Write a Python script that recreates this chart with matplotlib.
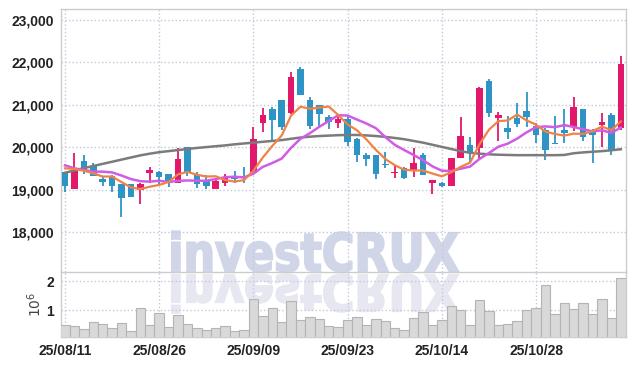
import numpy as np
import pandas as pd
import matplotlib
matplotlib.use('Agg')
import matplotlib.pyplot as plt
from matplotlib.textpath import TextPath
from matplotlib.patches import PathPatch
from matplotlib.font_manager import FontProperties
from matplotlib.transforms import Affine2D, IdentityTransform

# daily candles, 25/08/11 .. 25/11/10 (60 trading days)
open_ = np.array([19421, 19029, 19679, 19562, 19256, 19319, 19138, 19130, 19005, 19405,
                  19421, 19374, 19170, 20001, 19342, 19209, 19029, 19154, 19311, 19327,
                  19405, 20581, 20902, 21114, 20800, 21835, 21114, 20989, 20706, 20581,
                  20667, 20197, 19821, 19821, 19609, 19397, 19515, 19452, 19821, 19170,
                  19154, 19099, 19758, 20056, 19993, 21561, 20699, 20448, 20699, 20855,
                  20503, 20408, 20103, 20408, 20487, 20902, 20408, 20534, 20761, 20448])
high = np.array([19430, 19875, 19820, 19620, 19334, 19340, 19140, 19140, 19150, 19546,
                 19440, 19380, 19993, 20010, 19421, 19358, 19260, 19374, 19452, 19546,
                 20487, 20934, 20957, 21120, 21780, 21898, 21192, 21000, 20769, 20761,
                 20738, 20210, 19860, 19830, 19899, 19570, 19546, 19977, 19860, 19240,
                 19190, 19760, 20706, 20252, 21428, 21600, 20840, 20738, 21036, 21294,
                 20565, 20448, 20746, 20895, 21192, 20910, 20420, 20800, 20800, 22149])
low = np.array([18958, 19020, 19374, 19320, 19099, 18942, 18354, 18830, 18660, 19154,
                19138, 19060, 19160, 19327, 19036, 19020, 19020, 19099, 19170, 19154,
                19400, 20369, 20158, 20408, 20790, 21230, 20424, 20471, 20424, 20447,
                20032, 19648, 19562, 19264, 19507, 19272, 19265, 19295, 19342, 18903,
                19060, 19090, 19750, 19664, 19703, 20706, 20150, 20197, 20487, 20471,
                20095, 19703, 20070, 20095, 20393, 20150, 19624, 20001, 19820, 20408])
close = np.array([19099, 19468, 19468, 19334, 19193, 19099, 18817, 18840, 19138, 19468,
                  19311, 19170, 19734, 19428, 19131, 19099, 19201, 19287, 19248, 19303,
                  20197, 20761, 20644, 20471, 21663, 21240, 20510, 20793, 20589, 20667,
                  20134, 19813, 19719, 19366, 19585, 19421, 19272, 19632, 19358, 19233,
                  19091, 19750, 20267, 19860, 21388, 20800, 20761, 20354, 20542, 20706,
                  20299, 19938, 20087, 20346, 20942, 20252, 20291, 20597, 19938, 21961])
# closes before the window (read back from where the MA lines start)
prior_close = np.array([20168, 19868, 19724, 19193, 19277, 19548, 19673, 19639, 19571])
# long moving average
ma60 = np.array([19400, 19455, 19510, 19560, 19610, 19660, 19710, 19760, 19810, 19850,
                 19885, 19910, 19935, 19960, 19985, 20005, 20025, 20045, 20070, 20090,
                 20110, 20130, 20150, 20170, 20200, 20230, 20250, 20265, 20275, 20285,
                 20290, 20290, 20280, 20265, 20245, 20220, 20190, 20150, 20110, 20060,
                 20010, 19960, 19910, 19870, 19850, 19835, 19825, 19820, 19815, 19815,
                 19815, 19815, 19815, 19820, 19860, 19880, 19895, 19910, 19930, 19955])
# volume in millions of shares
volume = np.array([0.49, 0.47, 0.35, 0.60, 0.53, 0.40, 0.57, 0.28, 1.06, 0.50,
                   0.90, 0.42, 0.83, 0.52, 0.39, 0.31, 0.39, 0.47, 0.28, 0.32,
                   1.38, 0.81, 1.08, 0.60, 1.32, 0.67, 0.77, 0.69, 0.47, 0.43,
                   0.67, 0.76, 0.49, 0.69, 0.64, 0.39, 0.32, 0.73, 0.93, 0.49,
                   0.66, 1.14, 1.00, 0.49, 1.34, 0.97, 0.49, 0.53, 0.63, 1.00,
                   1.08, 1.85, 0.86, 1.24, 1.03, 1.24, 0.86, 1.38, 0.73, 2.09])
tick_pos = [0, 10, 20, 30, 40, 50]
tick_labels = ['25/08/11', '25/08/26', '25/09/09', '25/09/23', '25/10/14', '25/10/28']

RED = '#e2186a'
BLUE = '#2e94c6'
tick_font = dict(family=['Liberation Sans', 'DejaVu Sans'], size=10, weight='bold', color='#222222')

all_close = pd.Series(np.concatenate([prior_close, close]))
ma5 = all_close.rolling(5).mean().values[len(prior_close):]
ma10 = all_close.rolling(10).mean().values[len(prior_close):]

W, H = 634, 366
fig = plt.figure(figsize=(W / 100, H / 100), dpi=100)
ax = fig.add_axes([61 / W, 1 - 272 / H, 565 / W, 263 / H])
axv = fig.add_axes([61 / W, 1 - 337 / H, 565 / W, 65 / H], sharex=ax)

# watermark with reflection, behind both panels
fp = FontProperties(family='DejaVu Sans', weight='bold')
tp = TextPath((0, 0), 'investCRUX', size=1, prop=fp)
bb = tp.get_extents()
sx = 286 / bb.width
sy = 38 / 0.729
main_tr = Affine2D().translate(-bb.x0, 0).scale(sx, sy).translate(172, H - 271)
refl_tr = Affine2D().translate(-bb.x0, 0).scale(sx, -sy * 0.95).translate(172, H - 275)
fig.add_artist(PathPatch(main_tr.transform_path(tp), transform=IdentityTransform(),
                         facecolor='#d0d6e8', edgecolor='#d0d6e8', lw=1.5, zorder=-2))
fig.add_artist(PathPatch(refl_tr.transform_path(tp), transform=IdentityTransform(),
                         facecolor='#e6e7f0', edgecolor='#e6e7f0', lw=1.5, zorder=-2))

x = np.arange(len(close))
colors = np.where(close >= open_, RED, BLUE)
ax.vlines(x, low, high, colors=colors, linewidth=1.3, zorder=3)
ax.bar(x, np.maximum(np.abs(close - open_), 25), bottom=np.minimum(open_, close),
       width=0.7, color=colors, zorder=3)
ax.plot(x, ma60, color='#7b7b7b', lw=1.8, zorder=4)
ax.plot(x, ma10, color='#d05ce6', lw=1.8, zorder=4)
ax.plot(x, ma5, color='#f08247', lw=1.6, zorder=4)

ax.set_facecolor('none')
ax.set_ylim(17066, 23254)
ax.set_xlim(-0.42, 59.55)
yt = [18000, 19000, 20000, 21000, 22000, 23000]
ax.set_yticks(yt)
ax.set_yticklabels([f'{v:,}' for v in yt], fontdict=tick_font)
ax.set_xticks(tick_pos)
ax.tick_params(axis='x', labelbottom=False, length=0)
ax.tick_params(axis='y', length=0, pad=5)
ax.grid(True, color='#c3c8dc', linestyle=':', linewidth=1)

axv.bar(x, volume, width=1.0, color='#d9d9d9', edgecolor='#b4b4b4', linewidth=0.8, zorder=3)
axv.set_facecolor('none')
axv.set_ylim(0.08, 2.31)
axv.set_yticks([1, 2])
axv.set_yticklabels(['1', '2'], fontdict=tick_font)
axv.set_xticks(tick_pos)
axv.set_xticklabels(tick_labels, fontdict=tick_font)
axv.tick_params(length=0, pad=5)
axv.set_ylabel(r'$10^6$', fontsize=10, color='#444444', labelpad=2)
axv.grid(True, color='#c3c8dc', linestyle=':', linewidth=1)

for a in (ax, axv):
    for s in a.spines.values():
        s.set_color('#cccccc')
        s.set_linewidth(1)
axv.spines['top'].set_visible(False)

fig.savefig('out.png', dpi=100)
